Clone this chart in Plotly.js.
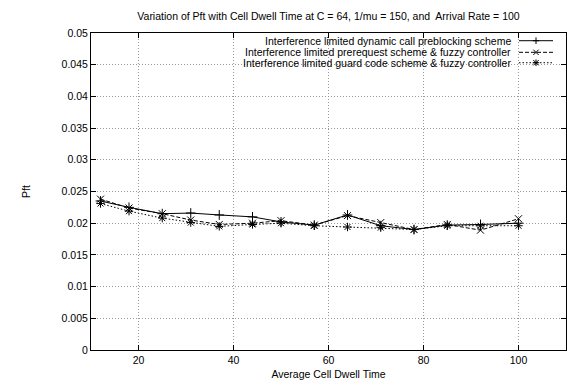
<!DOCTYPE html>
<html>
<head>
<meta charset="utf-8">
<script src="https://cdn.plot.ly/plotly-3.0.1.min.js"></script>
<style>html,body{margin:0;padding:0;background:#fff;}#chart{width:567px;height:387px;}</style>
</head>
<body>
<div id="chart"></div>
<script>
const dwellTime = [12, 18, 25, 31, 37, 44, 50, 57, 64, 71, 78, 85, 92, 100];
const preblocking = [0.0235, 0.0225, 0.0215, 0.0216, 0.0213, 0.0210, 0.0202, 0.0197, 0.0213, 0.0196, 0.0190, 0.0197, 0.0198, 0.0200];
const prerequest = [0.0238, 0.0224, 0.0215, 0.0205, 0.0198, 0.0200, 0.0204, 0.0197, 0.0212, 0.0201, 0.0190, 0.0198, 0.0189, 0.0207];
const guardCode = [0.0231, 0.0219, 0.0208, 0.0201, 0.0195, 0.0198, 0.0200, 0.0196, 0.0194, 0.0193, 0.0190, 0.0196, 0.0196, 0.0196];
const seriesNames = [
  "Interference limited dynamic call preblocking scheme",
  "Interference limited prerequest scheme & fuzzy controller",
  "Interference limited guard code scheme & fuzzy controller"
];
const yTickVals = [0, 0.005, 0.01, 0.015, 0.02, 0.025, 0.03, 0.035, 0.04, 0.045, 0.05];
const yTickText = ["0", "0.005", "0.01", "0.015", "0.02", "0.025", "0.03", "0.035", "0.04", "0.045", "0.05"];
const xTickVals = [20, 40, 60, 80, 100];

const FONT = "Liberation Sans, Arial, Helvetica, sans-serif";
const dashes = ["solid", "4px,2px", "1.5px,2px"];
const symbols = ["cross-thin-open", "x-thin-open", "asterisk-open"];
const allY = [preblocking, prerequest, guardCode];

const traces = allY.map((ys, i) => ({
  type: "scatter", mode: "lines+markers",
  x: dwellTime, y: ys, name: seriesNames[i],
  line: {color: "#000", width: 1, dash: dashes[i]},
  marker: {symbol: symbols[i], size: 7, color: "#000", line: {color: "#000", width: 1}},
  showlegend: false, cliponaxis: false
}));

const L = 91, R = 566, T = 33, B = 349.7;
const px = v => (v - L) / (R - L);
const py = v => (B - v) / (B - T);

const rowsY = [40.7, 52.3, 62.7];
const annotations = [];
const shapes = [
  {type: "rect", xref: "paper", yref: "paper", x0: px(224), x1: 1, y0: py(68), y1: 1,
   fillcolor: "#fff", line: {width: 0}, layer: "between"}
];
function seg(x0, y0, x1, y1) {
  shapes.push({type: "line", xref: "paper", yref: "paper", x0: px(x0), x1: px(x1), y0: py(y0), y1: py(y1),
    line: {color: "#000", width: 1}});
}
rowsY.forEach((ry, i) => {
  annotations.push({xref: "paper", yref: "paper", x: px(513), y: py(ry), xanchor: "right", yanchor: "middle",
    text: seriesNames[i], showarrow: false, font: {family: FONT, size: 10.5, color: "#000"}});
  shapes.push({type: "line", xref: "paper", yref: "paper", x0: px(519), x1: px(553), y0: py(ry), y1: py(ry),
    line: {color: "#000", width: 1, dash: dashes[i]}});
  const cx = 536, h = 3.3;
  if (i === 0 || i === 2) { seg(cx - h, ry, cx + h, ry); seg(cx, ry - h, cx, ry + h); }
  if (i === 1 || i === 2) { seg(cx - h * 0.8, ry - h * 0.8, cx + h * 0.8, ry + h * 0.8); seg(cx - h * 0.8, ry + h * 0.8, cx + h * 0.8, ry - h * 0.8); }
});

const layout = {
  width: 567, height: 387,
  margin: {l: L, r: 567 - R, t: T, b: 387 - B},
  paper_bgcolor: "#fff", plot_bgcolor: "#fff",
  font: {family: FONT, size: 10.5, color: "#000"},
  title: {text: "Variation of Pft with Cell Dwell Time at C = 64, 1/mu = 150, and  Arrival Rate = 100",
    font: {family: FONT, size: 10.5, color: "#000"}, x: ((L + R) / 2) / 567, xanchor: "center",
    y: 1 - 16 / 387, yref: "container", yanchor: "middle"},
  xaxis: {range: [10, 110], tickvals: xTickVals, ticks: "inside", ticklen: 5, tickcolor: "#000",
    showline: true, linecolor: "#000", linewidth: 1, mirror: "ticks",
    showgrid: true, gridcolor: "#999", griddash: "1px,2px", gridwidth: 1, zeroline: false,
    title: {text: "Average Cell Dwell Time", font: {family: FONT, size: 10.5}, standoff: 6},
    tickfont: {family: FONT, size: 10.5}},
  yaxis: {range: [0, 0.05], tickvals: yTickVals, ticktext: yTickText, ticks: "inside", ticklen: 5, tickcolor: "#000",
    showline: true, linecolor: "#000", linewidth: 1, mirror: "ticks",
    showgrid: true, gridcolor: "#999", griddash: "1px,2px", gridwidth: 1, zeroline: false,
    title: {text: "Pft", font: {family: FONT, size: 10.5}, standoff: 28},
    tickfont: {family: FONT, size: 10.5}},
  annotations: annotations,
  shapes: shapes,
  showlegend: false
};

Plotly.newPlot("chart", traces, layout, {displayModeBar: false, staticPlot: true});
</script>
</body>
</html>
